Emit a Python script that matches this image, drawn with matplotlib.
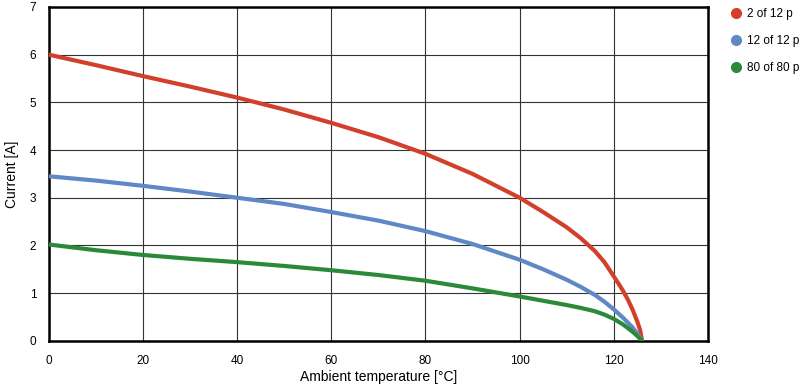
import matplotlib
matplotlib.use("Agg")
import matplotlib.pyplot as plt
from matplotlib.lines import Line2D

plt.rcParams['font.family'] = ['Liberation Sans', 'DejaVu Sans']

temp_red = [0, 10, 20, 30, 40, 50, 60, 70, 80, 90, 100, 105, 110, 113, 116, 118, 120, 121, 122, 123, 124, 125, 125.6, 126]
cur_red = [6.0, 5.78, 5.55, 5.33, 5.1, 4.85, 4.57, 4.27, 3.92, 3.5, 3.0, 2.7, 2.38, 2.15, 1.88, 1.65, 1.35, 1.2, 1.04, 0.86, 0.65, 0.4, 0.22, 0.0]
temp_blue = [0, 10, 20, 30, 40, 50, 60, 70, 80, 90, 100, 105, 110, 113, 116, 118, 120, 122, 124, 125, 126]
cur_blue = [3.45, 3.36, 3.25, 3.13, 3.0, 2.87, 2.7, 2.52, 2.3, 2.03, 1.7, 1.5, 1.28, 1.13, 0.96, 0.82, 0.66, 0.48, 0.28, 0.15, 0.0]
temp_green = [0, 10, 20, 30, 40, 50, 60, 70, 80, 90, 100, 105, 110, 113, 116, 118, 120, 122, 124, 125, 126]
cur_green = [2.02, 1.9, 1.8, 1.72, 1.65, 1.57, 1.48, 1.38, 1.26, 1.1, 0.93, 0.84, 0.75, 0.69, 0.62, 0.55, 0.46, 0.34, 0.19, 0.1, 0.0]

labels = ["2 of 12 p", "12 of 12 p", "80 of 80 p"]
colors = ["#d2402c", "#5f88c4", "#2a8a3a"]
xticks = [0, 20, 40, 60, 80, 100, 120, 140]
yticks = [0, 1, 2, 3, 4, 5, 6, 7]

fig = plt.figure(figsize=(8, 3.86), dpi=100)
ax = fig.add_axes([0.061, 0.117, 0.824, 0.865])

series = [(temp_red, cur_red), (temp_blue, cur_blue), (temp_green, cur_green)]
for (x, y), c in zip(series, colors):
    ax.plot(x, y, color=c, lw=3, solid_capstyle='round', solid_joinstyle='round', zorder=3)

ax.set_xlim(0, 140)
ax.set_ylim(0, 7)
ax.set_xticks(xticks)
ax.set_yticks(yticks)
ax.grid(True, color='#333333', lw=0.8)
ax.tick_params(length=0, labelsize=8.5, pad=10)
ax.tick_params(axis='y', pad=9)
for s in ax.spines.values():
    s.set_linewidth(1.8)
    s.set_color('black')
ax.set_xlabel("Ambient temperature [°C]", fontsize=10, labelpad=2)
ax.set_ylabel("Current [A]", fontsize=10, labelpad=8)

handles = [Line2D([], [], marker='o', ls='none', color=c, markersize=7) for c in colors]
fig.legend(handles, labels, loc='upper left', bbox_to_anchor=(0.903, 1.0),
           frameon=False, fontsize=8.5, handletextpad=0.4, labelspacing=1.3,
           borderaxespad=0.25, handlelength=1.0)

fig.savefig("out.png", dpi=100)
